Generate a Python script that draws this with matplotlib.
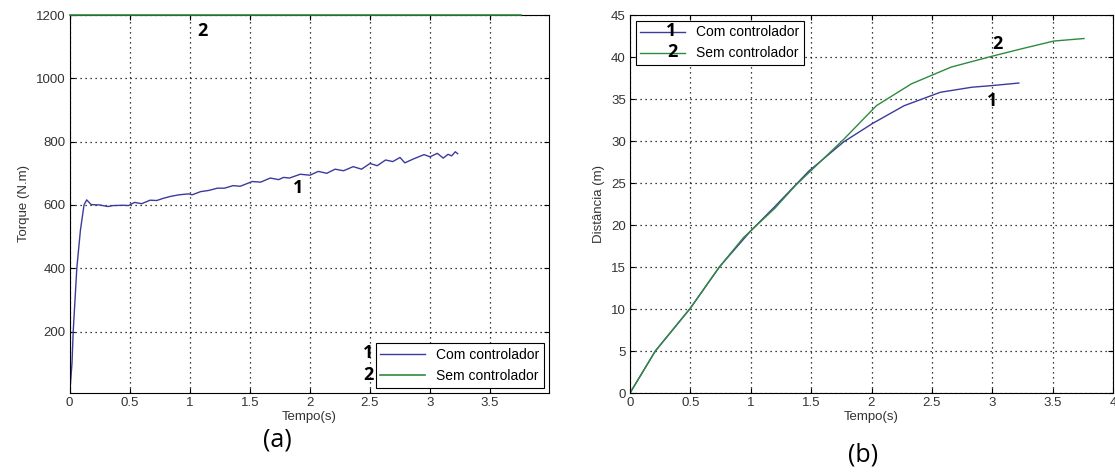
import matplotlib
matplotlib.use("Agg")
import matplotlib.pyplot as plt

plt.rcParams['font.family'] = ['Liberation Sans Narrow', 'Liberation Sans', 'DejaVu Sans']

# ---- Data (a) Torque ----
t_torque_com = [0.0, 0.02, 0.03, 0.06, 0.09, 0.12, 0.142, 0.18, 0.25, 0.32, 0.36, 0.45, 0.49,
                0.54, 0.60, 0.67, 0.725, 0.78, 0.84, 0.91, 0.99, 1.02, 1.09, 1.16, 1.23, 1.29,
                1.36, 1.42, 1.52, 1.59, 1.67, 1.74, 1.78, 1.83, 1.92, 2.0, 2.07, 2.14, 2.21,
                2.28, 2.36, 2.43, 2.5, 2.56, 2.63, 2.69, 2.75, 2.79, 2.86, 2.95, 3.0, 3.06,
                3.11, 3.15, 3.18, 3.21, 3.23]
torque_com = [0, 100, 200, 400, 520, 600, 616, 601, 600, 595, 598, 599, 598,
              608, 604, 615, 614, 621, 627, 632, 635, 632, 642, 646, 653, 653,
              661, 659, 674, 672, 685, 680, 687, 685, 697, 694, 706, 700, 713,
              708, 721, 713, 731, 724, 742, 737, 750, 733, 745, 759, 752, 763,
              748, 760, 755, 768, 762]
t_torque_sem = [0.0, 3.76]
torque_sem = [1200, 1200]

# ---- Data (b) Distance ----
t_dist_com = [0.0, 0.21, 0.5, 0.74, 1.0, 1.2, 1.48, 1.77, 2.01, 2.27, 2.57, 2.83, 3.0, 3.22]
dist_com = [0.0, 5.0, 10.1, 15.0, 19.3, 22.2, 26.4, 29.9, 32.1, 34.2, 35.8, 36.4, 36.6, 36.9]
t_dist_sem = [0.0, 0.21, 0.5, 0.74, 0.94, 1.2, 1.37, 1.77, 2.04, 2.33, 2.66, 3.0, 3.25, 3.51, 3.76]
dist_sem = [0.0, 5.0, 10.1, 15.0, 18.5, 22.0, 24.7, 30.2, 34.2, 36.8, 38.8, 40.1, 41.0, 41.9, 42.2]

labels = ['Com controlador', 'Sem controlador']
blue = '#3b3b9c'
green = '#2f8a3f'
tick_color = '#333333'

fig = plt.figure(figsize=(11.15, 4.72), dpi=100)
W, H = 1115, 472
ann_font = ['Open Sans', 'DejaVu Sans']

def style(ax):
    ax.grid(True, linestyle=(0, (1, 3)), color='black', linewidth=0.9)
    ax.tick_params(direction='in', top=True, right=True, labelsize=9.5, length=3.5, pad=3,
                   labelcolor=tick_color)
    for s in ax.spines.values():
        s.set_linewidth(0.8)

# ---- (a) ----
ax1 = fig.add_axes([69.6 / W, 1 - 393 / H, (549 - 69.6) / W, (393 - 15) / H])
ax1.plot(t_torque_com, torque_com, color=blue, lw=1.0, label=labels[0])
ax1.plot(t_torque_sem, torque_sem, color=green, lw=1.2, label=labels[1], clip_on=False, zorder=5)
ax1.set_xlim(0, 3.99)
ax1.set_ylim(6, 1200)
ax1.set_xticks([0, 0.5, 1, 1.5, 2, 2.5, 3, 3.5])
ax1.set_xticklabels(['0', '0.5', '1', '1.5', '2', '2.5', '3', '3.5'])
ax1.set_yticks([200, 400, 600, 800, 1000, 1200])
style(ax1)
ax1.set_xlabel('Tempo(s)', fontsize=9.5, labelpad=1, color=tick_color)
ax1.set_ylabel('Torque (N.m)', fontsize=9.5, labelpad=4, color=tick_color)
leg1 = ax1.legend(loc='lower right', fontsize=10, frameon=True, fancybox=False,
                  edgecolor='black', framealpha=1, borderpad=0.35, handlelength=3.2,
                  labelspacing=0.5, borderaxespad=0.35)
leg1.get_frame().set_linewidth(0.8)
ax1.text(1.11, 1150, '2', fontsize=13, fontweight='bold', family=ann_font,
         ha='center', va='center')
ax1.text(1.9, 655, '1', fontsize=13, fontweight='bold', family=ann_font,
         ha='center', va='center')
fig.text(368 / W, 1 - 353 / H, '1', fontsize=13, fontweight='bold',
         family=ann_font, ha='center', va='center')
fig.text(368 / W, 1 - 375 / H, '2', fontsize=13, fontweight='bold',
         family=ann_font, ha='center', va='center')
fig.text(277 / W, 1 - 440 / H, '(a)', fontsize=18, family=ann_font,
         ha='center', va='center')

# ---- (b) ----
ax2 = fig.add_axes([630 / W, 1 - 393 / H, (1113 - 630) / W, (393 - 15) / H])
ax2.plot(t_dist_com, dist_com, color=blue, lw=1.0, label=labels[0])
ax2.plot(t_dist_sem, dist_sem, color=green, lw=1.0, label=labels[1])
ax2.set_xlim(0, 4)
ax2.set_ylim(0, 45)
ax2.set_xticks([0, 0.5, 1, 1.5, 2, 2.5, 3, 3.5, 4])
ax2.set_xticklabels(['0', '0.5', '1', '1.5', '2', '2.5', '3', '3.5', '4'])
ax2.set_yticks(list(range(0, 46, 5)))
style(ax2)
ax2.set_xlabel('Tempo(s)', fontsize=9.5, labelpad=1, color=tick_color)
ax2.set_ylabel('Distância (m)', fontsize=9.5, labelpad=4, color=tick_color)
leg2 = ax2.legend(loc='upper left', fontsize=10, frameon=True, fancybox=False,
                  edgecolor='black', framealpha=1, borderpad=0.35, handlelength=3.2,
                  labelspacing=0.5, borderaxespad=0.4)
leg2.get_frame().set_linewidth(0.8)
ax2.text(3.04, 41.6, '2', fontsize=13, fontweight='bold', family=ann_font,
         ha='center', va='center')
ax2.text(3.0, 34.8, '1', fontsize=13, fontweight='bold', family=ann_font,
         ha='center', va='center')
fig.text(671 / W, 1 - 31 / H, '1', fontsize=13, fontweight='bold',
         family=ann_font, ha='center', va='center')
fig.text(672 / W, 1 - 52 / H, '2', fontsize=13, fontweight='bold',
         family=ann_font, ha='center', va='center')
fig.text(863 / W, 1 - 455 / H, '(b)', fontsize=18, family=ann_font,
         ha='center', va='center')

fig.savefig('out.png', dpi=100)
